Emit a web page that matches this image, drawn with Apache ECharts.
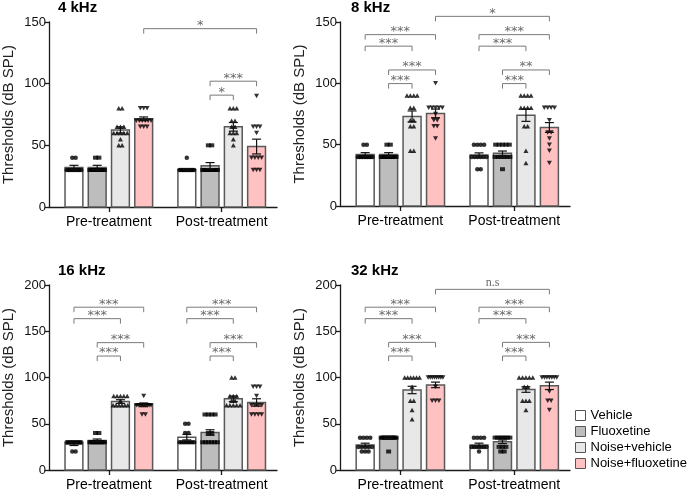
<!DOCTYPE html>
<html style="height: 100%">
<head>
  <meta charset="utf-8">
</head>
<body style="height: 100%; margin: 0">
<div id="container" style="width: 687px; height: 492px"></div>
<script type="text/javascript" src="https://cdn.jsdelivr.net/npm/echarts@6/dist/echarts.min.js"></script>
<script type="text/javascript">
var groups = ['Pre-treatment', 'Post-treatment'];
var treatments = ['Vehicle', 'Fluoxetine', 'Noise+vehicle', 'Noise+fluoxetine'];
var panelTitles = ['4 kHz', '8 kHz', '16 kHz', '32 kHz'];
var yMax = [150, 150, 200, 200];

// group means, [Pre, Post] x [Vehicle, Fluoxetine, Noise+vehicle, Noise+fluoxetine]
var mean4k = [[32, 32, 62.5, 71.5], [30.5, 33.5, 65, 49]];
var mean8k = [[42, 42, 73, 75.5], [41.5, 43, 74, 64]];
var mean16k = [[28, 32, 74, 70.5], [35.5, 40.5, 77, 73]];
var mean32k = [[27, 35, 86.5, 92], [27, 30.5, 87, 91]];

var sem4k = [[1.8, 1.8, 2.5, 1.5], [0.5, 2.5, 3.5, 6]];
var sem8k = [[1.5, 1.5, 4.5, 3.5], [1.8, 1.8, 5, 4]];
var sem16k = [[1.5, 1.5, 2, 2], [3, 3, 3, 4]];
var sem32k = [[2, 1, 4, 3], [2, 2, 3, 4]];

// individual animals
var pts4k = [
  [[40,40,30,30,30,30,30,30,30,30,30,30],
   [40,40,30,30,30,30,30,30,30,30,30,30],
   [80,80,65,65,65,60,60,60,60,60,55,50,50],
   [80,80,80,70,70,70,70,70,70,65,65,65]],
  [[40,30,30,30,30,30,30,30,30,30,30,30],
   [50,50,30,30,30,30,30,30,30,30,30,30],
   [80,80,80,70,70,65,65,60,60,60,55,50],
   [90,65,65,65,60,40,40,40,40,30,30,30]]
];
var pts8k = [
  [[50,50,40,40,40,40,40,40,40,40,40,40],
   [50,50,40,40,40,40,40,40,40,40,40,40],
   [90,90,90,90,80,80,70,70,65,65,45,45],
   [100,80,80,80,80,80,75,70,70,65,65,55]],
  [[50,50,50,50,40,40,40,40,40,40,30,30],
   [50,50,50,50,50,40,40,40,40,40,40,30],
   [90,90,90,90,80,80,80,80,65,65,45,35],
   [80,80,80,80,70,60,60,55,50,45,35]]
];
var pts16k = [
  [[30,30,30,30,30,30,30,30,30,30,20,20],
   [40,40,30,30,30,30,30,30,30,30,30,30],
   [80,80,80,80,80,75,70,70,70,70,70,70],
   [80,70,70,70,70,70,70,70,70,70,60,60]],
  [[50,50,40,40,30,30,30,30,30,30,30,30],
   [60,60,60,60,40,40,30,30,30,30,30,30],
   [100,100,80,80,80,75,75,70,70,70,70,70],
   [90,90,90,80,70,70,70,70,60,60,60,60]]
];
var pts32k = [
  [[35,35,35,35,25,25,25,25,25,20,20,20],
   [35,35,35,35,35,35,35,35,35,35,35,20],
   [100,100,100,100,100,100,90,75,75,65,55],
   [100,100,100,100,100,100,100,100,90,75,75,75]],
  [[35,35,35,35,25,25,25,25,25,25,25,20],
   [35,35,35,35,35,35,35,25,25,25,20,20],
   [100,100,100,100,100,90,90,75,75,75,65],
   [100,100,100,100,100,100,100,85,75,75,65]]
];

// significance brackets: [group1, treatment1, group2, treatment2, height, label]
var sig4k = [[0,3,1,3,144.6,'*'], [1,1,1,3,102,'***'], [1,1,1,2,90.7,'*']];
var sig8k = [[0,3,1,3,154.6,'*'],
  [0,0,0,3,139.7,'***'], [0,0,0,2,130.3,'***'], [0,1,0,3,110.9,'***'], [0,1,0,2,99.8,'***'],
  [1,0,1,3,139.7,'***'], [1,0,1,2,130.3,'***'], [1,1,1,3,110.9,'**'], [1,1,1,2,99.8,'***']];
var sig16k = [
  [0,0,0,3,176,'***'], [0,0,0,2,163.6,'***'], [0,1,0,3,137.7,'***'], [0,1,0,2,123.2,'***'],
  [1,0,1,3,176,'***'], [1,0,1,2,163.6,'***'], [1,1,1,3,137.7,'***'], [1,1,1,2,123.2,'***']];
var sig32k = [[0,3,1,3,195.3,'n.s'],
  [0,0,0,3,176,'***'], [0,0,0,2,163.6,'***'], [0,1,0,3,138,'***'], [0,1,0,2,123.2,'***'],
  [1,0,1,3,176,'***'], [1,0,1,2,163.6,'***'], [1,1,1,3,138,'***'], [1,1,1,2,123.2,'***']];

var means = [mean4k, mean8k, mean16k, mean32k];
var sems = [sem4k, sem8k, sem16k, sem32k];
var points = [pts4k, pts8k, pts16k, pts32k];
var sigs = [sig4k, sig8k, sig16k, sig32k];

var fills = ['#ffffff', '#bdbdbd', '#e8e8e8', '#ffc1c1'];
var symbols = ['circle', 'rect', 'triangle', 'triangle'];
var symbolRot = [0, 0, 0, 180];
var grids = [
  {left: 49, top: 22, width: 228, height: 185},
  {left: 340, top: 22, width: 230, height: 184},
  {left: 49, top: 285, width: 228, height: 185},
  {left: 340, top: 285, width: 230, height: 185}
];
var titlePos = [[58, 0], [351, 0], [58, 263], [351, 263]];

var X_MIN = 0.47, X_MAX = 2.49;
var STEP = 0.206;    // distance between bar centres, in group units
var BAR_W = 0.158;   // bar width, in group units

function xPos(g, k) {
  return g + 1 + (k - 1.5) * STEP;
}

// spread animals with the same threshold side by side
function spread(vals) {
  var counts = {}, seen = {};
  vals.forEach(function (v) { counts[v] = (counts[v] || 0) + 1; });
  return vals.map(function (v) {
    var n = counts[v];
    seen[v] = seen[v] === undefined ? 0 : seen[v] + 1;
    var step = Math.min(0.03, 0.13 / Math.max(n - 1, 1));
    return (seen[v] - (n - 1) / 2) * step;
  });
}

var dom = document.getElementById('container');
var myChart = echarts.init(dom);

var title = [], xAxis = [], yAxis = [], series = [];

panelTitles.forEach(function (t, p) {
  title.push({
    text: t, left: titlePos[p][0], top: titlePos[p][1], padding: 0,
    textStyle: {fontSize: 15, fontWeight: 'bold', color: '#000', fontFamily: 'Liberation Sans'}
  });
  xAxis.push({
    type: 'value', gridIndex: p, min: X_MIN, max: X_MAX,
    splitLine: {show: false},
    axisLine: {lineStyle: {color: '#1a1a1a', width: 1.3}},
    axisTick: {customValues: [1, 2], length: 5, lineStyle: {color: '#1a1a1a', width: 1.3}},
    axisLabel: {
      customValues: [1, 2], margin: 8, fontSize: 14, color: '#000', fontFamily: 'Liberation Sans',
      formatter: function (v) { return groups[Math.round(v) - 1]; }
    }
  });
  yAxis.push({
    type: 'value', gridIndex: p, min: 0, max: yMax[p], interval: 50,
    name: 'Thresholds (dB SPL)', nameLocation: 'middle', nameGap: 33,
    nameTextStyle: {fontSize: 15, color: '#222', fontFamily: 'Liberation Sans'},
    splitLine: {show: false},
    axisLine: {show: true, lineStyle: {color: '#1a1a1a', width: 1.3}},
    axisTick: {show: true, length: 4, lineStyle: {color: '#1a1a1a', width: 1.3}},
    axisLabel: {fontSize: 13, color: '#111', margin: 3, fontFamily: 'Liberation Sans'}
  });

  // bars
  treatments.forEach(function (name, k) {
    series.push({
      type: 'custom', name: name, xAxisIndex: p, yAxisIndex: p, z: 2,
      itemStyle: {color: fills[k], borderColor: '#555', borderWidth: 1.5},
      data: groups.map(function (g, gi) { return [xPos(gi, k), means[p][gi][k]]; }),
      renderItem: function (params, api) {
        var x = api.value(0), y = api.value(1);
        var top = api.coord([x, y]), base = api.coord([x, 0]);
        var w = api.size([BAR_W, 0])[0];
        return {
          type: 'rect',
          shape: {x: top[0] - w / 2, y: top[1], width: w, height: base[1] - top[1]},
          style: {fill: fills[k], stroke: '#595959', lineWidth: 1.5}
        };
      }
    });
  });

  // individual points
  treatments.forEach(function (name, k) {
    var data = [];
    groups.forEach(function (g, gi) {
      var vals = points[p][gi][k];
      var offs = spread(vals);
      vals.forEach(function (v, i) { data.push([xPos(gi, k) + offs[i], v]); });
    });
    series.push({
      type: 'scatter', name: name + ' animals', xAxisIndex: p, yAxisIndex: p, z: 3,
      symbol: symbols[k], symbolRotate: symbolRot[k],
      symbolSize: k === 0 ? 4.5 : (k === 1 ? [5, 4] : [5, 4.5]),
      itemStyle: {color: '#000'}, silent: true,
      data: data
    });
  });

  // error bars (mean +/- sem)
  var errData = [];
  groups.forEach(function (g, gi) {
    treatments.forEach(function (t, k) {
      errData.push([xPos(gi, k), means[p][gi][k], sems[p][gi][k]]);
    });
  });
  series.push({
    type: 'custom', name: 'sem', xAxisIndex: p, yAxisIndex: p, z: 4, silent: true,
    data: errData,
    renderItem: function (params, api) {
      var x = api.value(0), m = api.value(1), s = api.value(2);
      var hi = api.coord([x, m + s]), lo = api.coord([x, m - s]);
      var c = 4.5;
      var st = {stroke: '#111', lineWidth: 1.2};
      return {type: 'group', children: [
        {type: 'line', shape: {x1: hi[0], y1: hi[1], x2: lo[0], y2: lo[1]}, style: st},
        {type: 'line', shape: {x1: hi[0] - c, y1: hi[1], x2: hi[0] + c, y2: hi[1]}, style: st},
        {type: 'line', shape: {x1: lo[0] - c, y1: lo[1], x2: lo[0] + c, y2: lo[1]}, style: st}
      ]};
    }
  });

  // significance brackets
  var sig = sigs[p];
  series.push({
    type: 'custom', name: 'sig', xAxisIndex: p, yAxisIndex: p, z: 5, silent: true, clip: false,
    data: sig.map(function (b) { return [xPos(b[0], b[1]), xPos(b[2], b[3]), b[4]]; }),
    renderItem: function (params, api) {
      var label = sig[params.dataIndex][5];
      var a = api.coord([api.value(0), api.value(2)]);
      var b = api.coord([api.value(1), api.value(2)]);
      var drop = 5;
      var ns = label === 'n.s';
      return {type: 'group', children: [
        {type: 'polyline', shape: {points: [[a[0], a[1] + drop], [a[0], a[1]], [b[0], b[1]], [b[0], b[1] + drop]]},
         style: {stroke: '#7a7a7a', lineWidth: 1, fill: null}},
        {type: 'text', x: (a[0] + b[0]) / 2, y: a[1] - (ns ? 7 : 3),
         style: {text: label, fill: '#6a6a6a', align: 'center', verticalAlign: 'middle',
                 font: ns ? '12px "Liberation Serif"' : '13px "DejaVu Sans"'}}
      ]};
    }
  });
});

var option = {
  animation: false,
  backgroundColor: '#fff',
  title: title,
  grid: grids,
  xAxis: xAxis,
  yAxis: yAxis,
  legend: {
    data: treatments, orient: 'vertical', left: 575, top: 409, padding: 0,
    itemWidth: 10, itemHeight: 10, itemGap: 3, icon: 'rect', selectedMode: false,
    itemStyle: {borderColor: '#555', borderWidth: 1},
    textStyle: {fontSize: 13, color: '#000', fontFamily: 'Liberation Sans', lineHeight: 13}
  },
  series: series
};
myChart.setOption(option);
</script>
</body>
</html>
